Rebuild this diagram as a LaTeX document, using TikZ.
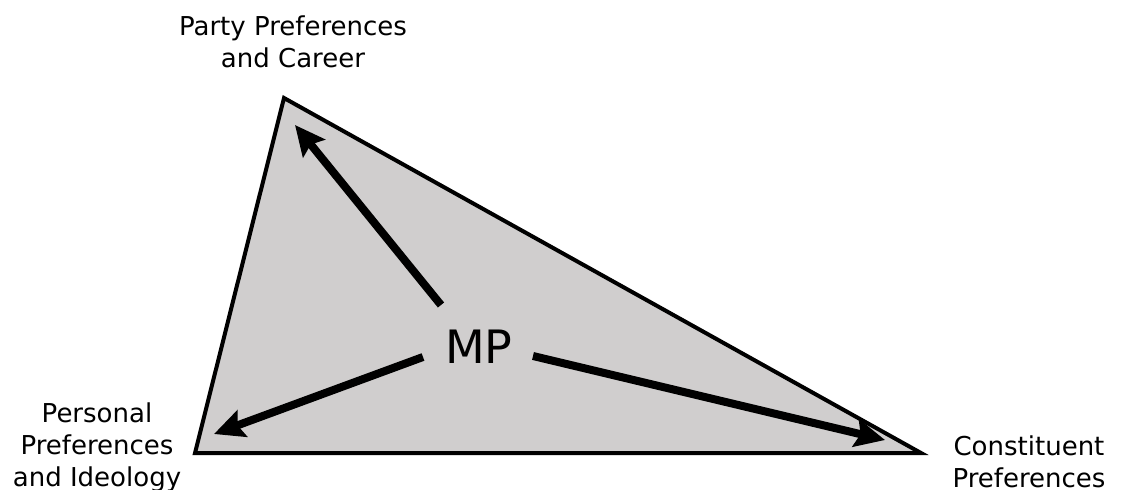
\documentclass[tikz,border=0pt]{standalone}
\usepackage{fontspec}
\setmainfont{DejaVu Sans}
\usetikzlibrary{arrows.meta}
\definecolor{trifill}{RGB}{208,206,206}
\begin{document}
\begin{tikzpicture}[x=1pt,y=-1pt,
  lbl/.style={align=center,inner sep=0pt,anchor=base,font=\fontsize{26}{32}\selectfont},
  tri/.style={draw=black,line width=4pt,fill=trifill,line join=miter},
  mparrow/.style={line width=8pt,-{Stealth[length=30pt,width=28pt,inset=5pt]}}]
\useasboundingbox (0,0) rectangle (1122,490);
\coordinate (T) at (284,98);
\coordinate (BL) at (195,453);
\coordinate (BR) at (921,453);
\draw[tri] (T) -- (BR) -- (BL) -- cycle;
\node[lbl] (mp) at (479,363) {\fontsize{46}{50}\selectfont MP};
\coordinate (s1) at (441,305);
\coordinate (e1) at (295,125);
\coordinate (s2) at (423,357);
\coordinate (e2) at (214,434);
\coordinate (s3) at (533,356);
\coordinate (e3) at (885,440);
\draw[mparrow] (s1) -- (e1);
\draw[mparrow] (s2) -- (e2);
\draw[mparrow] (s3) -- (e3);
\node[lbl] (party) at (293,67) {Party Preferences\\and Career};
\node[lbl] (personal) at (97,486) {Personal\\Preferences\\and Ideology};
\node[lbl] (const) at (1029,487) {Constituent\\Preferences};
\end{tikzpicture}
\end{document}
